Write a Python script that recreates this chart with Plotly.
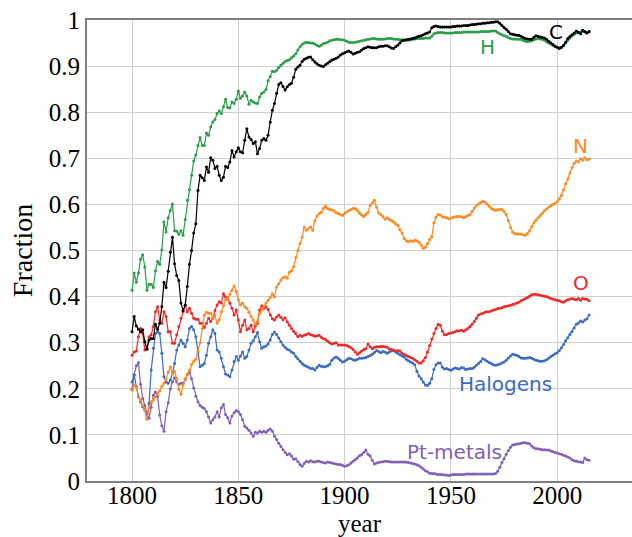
import plotly.graph_objects as go

START_YEAR = 1800

C = [
0.324,0.357,0.336,0.329,0.324,0.328,0.302,0.286,0.306,0.309,
0.309,0.340,0.329,0.342,0.378,0.431,0.420,0.455,0.496,0.529,
0.471,0.446,0.435,0.386,0.370,0.381,0.422,0.470,0.500,0.538,
0.558,0.630,0.663,0.658,0.652,0.681,0.670,0.701,0.696,0.678,
0.683,0.663,0.652,0.659,0.683,0.680,0.692,0.717,0.703,0.714,
0.723,0.714,0.712,0.739,0.764,0.746,0.741,0.732,0.736,0.710,
0.721,0.739,0.743,0.739,0.750,0.779,0.804,0.819,0.841,0.860,
0.864,0.856,0.848,0.855,0.860,0.863,0.876,0.893,0.898,0.902,
0.910,0.915,0.917,0.919,0.920,0.914,0.909,0.905,0.902,0.900,
0.899,0.903,0.906,0.910,0.913,0.915,0.917,0.920,0.924,0.927,
0.929,0.931,0.933,0.930,0.926,0.928,0.930,0.931,0.935,0.938,
0.940,0.942,0.941,0.940,0.940,0.940,0.942,0.943,0.943,0.944,
0.944,0.942,0.939,0.938,0.942,0.945,0.950,0.955,0.956,0.957,
0.958,0.959,0.960,0.961,0.963,0.965,0.966,0.968,0.970,0.972,
0.974,0.983,0.986,0.987,0.986,0.985,0.985,0.985,0.985,0.985,
0.985,0.986,0.986,0.987,0.987,0.987,0.988,0.988,0.988,0.989,
0.990,0.990,0.991,0.992,0.992,0.993,0.993,0.994,0.994,0.995,
0.995,0.996,0.996,0.993,0.988,0.984,0.980,0.975,0.970,0.969,
0.968,0.967,0.967,0.965,0.962,0.960,0.959,0.958,0.958,0.962,
0.966,0.965,0.963,0.962,0.961,0.958,0.954,0.950,0.947,0.943,
0.941,0.938,0.941,0.945,0.952,0.960,0.964,0.968,0.972,0.976,
0.973,0.970,0.978,0.975,0.972,0.975]

H = [
0.414,0.451,0.431,0.451,0.481,0.491,0.464,0.414,0.427,0.426,
0.420,0.456,0.476,0.470,0.501,0.562,0.540,0.571,0.587,0.601,
0.543,0.542,0.535,0.543,0.533,0.567,0.609,0.632,0.663,0.694,
0.707,0.728,0.745,0.728,0.728,0.755,0.750,0.768,0.779,0.784,
0.797,0.803,0.797,0.812,0.828,0.810,0.809,0.822,0.819,0.828,
0.846,0.830,0.835,0.844,0.835,0.817,0.826,0.822,0.820,0.819,
0.833,0.841,0.844,0.849,0.868,0.877,0.889,0.888,0.891,0.897,
0.902,0.906,0.910,0.912,0.914,0.918,0.922,0.927,0.935,0.942,
0.947,0.950,0.952,0.951,0.950,0.950,0.948,0.945,0.943,0.945,
0.949,0.950,0.952,0.955,0.956,0.957,0.958,0.958,0.957,0.957,
0.956,0.954,0.952,0.951,0.951,0.952,0.953,0.954,0.955,0.956,
0.957,0.958,0.959,0.960,0.960,0.959,0.958,0.958,0.958,0.959,
0.960,0.960,0.960,0.959,0.958,0.958,0.957,0.957,0.957,0.956,
0.956,0.957,0.958,0.959,0.960,0.960,0.960,0.960,0.961,0.961,
0.961,0.965,0.970,0.972,0.973,0.973,0.973,0.972,0.972,0.972,
0.972,0.972,0.973,0.973,0.973,0.973,0.974,0.974,0.974,0.974,
0.974,0.974,0.974,0.974,0.975,0.975,0.975,0.975,0.975,0.976,
0.976,0.976,0.973,0.970,0.968,0.966,0.965,0.962,0.960,0.959,
0.959,0.958,0.958,0.958,0.956,0.954,0.953,0.954,0.955,0.957,
0.959,0.960,0.959,0.958,0.956,0.953,0.950,0.948,0.945,0.943,
0.941,0.940,0.941,0.944,0.950,0.956,0.961,0.966,0.969,0.972,
0.973,0.974,0.975,0.974,0.973,0.974]

N = [
0.197,0.208,0.204,0.183,0.175,0.164,0.154,0.134,0.159,0.172,
0.176,0.182,0.190,0.196,0.205,0.212,0.220,0.236,0.248,0.232,
0.238,0.222,0.199,0.188,0.209,0.222,0.232,0.240,0.253,0.260,
0.264,0.282,0.300,0.330,0.360,0.366,0.364,0.364,0.352,0.360,
0.342,0.350,0.367,0.380,0.393,0.396,0.405,0.414,0.423,0.411,
0.393,0.382,0.386,0.378,0.375,0.366,0.357,0.349,0.340,0.346,
0.364,0.371,0.378,0.386,0.392,0.398,0.406,0.399,0.421,0.428,
0.436,0.441,0.443,0.440,0.453,0.456,0.465,0.485,0.500,0.515,
0.529,0.551,0.544,0.547,0.551,0.544,0.565,0.575,0.580,0.583,
0.591,0.596,0.591,0.589,0.588,0.586,0.582,0.580,0.578,0.576,
0.580,0.584,0.586,0.589,0.591,0.591,0.587,0.581,0.577,0.574,
0.578,0.583,0.598,0.603,0.609,0.594,0.582,0.578,0.574,0.568,
0.571,0.567,0.565,0.562,0.558,0.555,0.545,0.538,0.526,0.521,
0.519,0.521,0.520,0.522,0.521,0.518,0.512,0.505,0.507,0.515,
0.524,0.530,0.560,0.572,0.578,0.577,0.573,0.572,0.571,0.569,
0.570,0.572,0.573,0.574,0.574,0.573,0.571,0.574,0.576,0.578,
0.585,0.592,0.597,0.601,0.604,0.607,0.605,0.601,0.596,0.591,
0.589,0.587,0.589,0.589,0.589,0.584,0.578,0.565,0.550,0.540,
0.537,0.536,0.536,0.536,0.534,0.533,0.537,0.543,0.552,0.560,
0.566,0.571,0.576,0.581,0.586,0.590,0.594,0.597,0.600,0.602,
0.606,0.612,0.620,0.632,0.645,0.655,0.668,0.680,0.689,0.694,
0.692,0.699,0.696,0.701,0.697,0.698]

O = [
0.273,0.280,0.282,0.313,0.331,0.320,0.284,0.288,0.313,0.317,
0.335,0.367,0.378,0.349,0.342,0.367,0.357,0.324,0.324,0.299,
0.299,0.317,0.335,0.353,0.367,0.382,0.367,0.375,0.364,0.353,
0.351,0.351,0.342,0.342,0.333,0.342,0.353,0.346,0.353,0.370,
0.382,0.389,0.386,0.406,0.399,0.396,0.386,0.375,0.360,0.371,
0.349,0.324,0.338,0.349,0.328,0.331,0.338,0.324,0.336,0.342,
0.371,0.380,0.375,0.378,0.372,0.360,0.352,0.349,0.356,0.360,
0.355,0.350,0.354,0.345,0.338,0.331,0.325,0.320,0.313,0.316,
0.314,0.316,0.318,0.320,0.317,0.316,0.314,0.315,0.316,0.312,
0.309,0.307,0.303,0.300,0.297,0.299,0.300,0.295,0.295,0.295,
0.295,0.294,0.292,0.289,0.285,0.280,0.275,0.278,0.282,0.285,
0.287,0.297,0.291,0.287,0.290,0.291,0.291,0.292,0.292,0.291,
0.290,0.287,0.285,0.283,0.282,0.283,0.282,0.277,0.275,0.272,
0.270,0.268,0.266,0.263,0.260,0.256,0.256,0.261,0.268,0.280,
0.294,0.308,0.320,0.331,0.340,0.338,0.325,0.317,0.318,0.320,
0.321,0.322,0.324,0.326,0.326,0.327,0.325,0.328,0.331,0.335,
0.340,0.346,0.353,0.360,0.362,0.364,0.366,0.367,0.367,0.369,
0.371,0.372,0.374,0.375,0.376,0.378,0.379,0.380,0.381,0.383,
0.384,0.386,0.388,0.391,0.393,0.396,0.398,0.401,0.404,0.405,
0.405,0.404,0.403,0.402,0.401,0.400,0.398,0.396,0.395,0.393,
0.392,0.391,0.389,0.388,0.391,0.393,0.395,0.396,0.394,0.393,
0.396,0.392,0.396,0.395,0.394,0.391]

HALOGENS = [
0.215,0.230,0.205,0.183,0.172,0.161,0.154,0.136,0.168,0.241,
0.288,0.320,0.324,0.320,0.277,0.226,0.215,0.212,0.219,0.233,
0.255,0.284,0.295,0.306,0.299,0.291,0.306,0.331,0.335,0.328,
0.313,0.280,0.248,0.251,0.255,0.273,0.299,0.313,0.328,0.320,
0.284,0.280,0.266,0.248,0.232,0.230,0.226,0.241,0.259,0.270,
0.262,0.271,0.280,0.266,0.270,0.284,0.299,0.304,0.313,0.322,
0.302,0.288,0.291,0.293,0.297,0.306,0.318,0.323,0.318,0.310,
0.302,0.295,0.290,0.286,0.284,0.280,0.277,0.270,0.265,0.260,
0.255,0.251,0.249,0.247,0.244,0.244,0.241,0.246,0.251,0.249,
0.248,0.248,0.250,0.253,0.262,0.267,0.269,0.266,0.262,0.258,
0.260,0.263,0.266,0.265,0.263,0.262,0.264,0.266,0.266,0.267,
0.268,0.270,0.272,0.275,0.279,0.283,0.281,0.278,0.281,0.280,
0.277,0.280,0.282,0.284,0.280,0.277,0.274,0.271,0.269,0.264,
0.261,0.258,0.256,0.252,0.238,0.228,0.222,0.215,0.208,0.207,
0.212,0.222,0.242,0.252,0.256,0.256,0.247,0.243,0.244,0.242,
0.240,0.243,0.245,0.244,0.243,0.246,0.245,0.242,0.243,0.244,
0.244,0.247,0.251,0.255,0.259,0.265,0.263,0.260,0.257,0.255,
0.252,0.251,0.252,0.254,0.256,0.258,0.262,0.267,0.271,0.275,
0.274,0.273,0.270,0.267,0.266,0.266,0.267,0.268,0.266,0.264,
0.262,0.261,0.260,0.260,0.261,0.263,0.266,0.270,0.273,0.276,
0.278,0.283,0.289,0.296,0.304,0.311,0.318,0.324,0.332,0.340,
0.343,0.347,0.345,0.349,0.352,0.360]

PT_METALS = [
0.199,0.231,0.250,0.257,0.210,0.179,0.164,0.145,0.136,0.160,
0.186,0.193,0.184,0.143,0.120,0.108,0.150,0.170,0.200,0.215,
0.224,0.215,0.210,0.212,0.212,0.220,0.231,0.236,0.222,0.202,
0.184,0.172,0.164,0.160,0.157,0.150,0.139,0.126,0.133,0.139,
0.150,0.139,0.159,0.166,0.144,0.137,0.126,0.141,0.148,0.153,
0.150,0.144,0.133,0.119,0.115,0.110,0.104,0.097,0.106,0.104,
0.108,0.106,0.108,0.106,0.110,0.113,0.108,0.097,0.090,0.082,
0.075,0.068,0.062,0.057,0.059,0.054,0.047,0.048,0.042,0.036,
0.032,0.038,0.043,0.041,0.044,0.042,0.041,0.043,0.043,0.041,
0.040,0.039,0.041,0.040,0.039,0.038,0.037,0.036,0.036,0.034,
0.032,0.033,0.035,0.039,0.043,0.046,0.050,0.055,0.057,0.062,
0.067,0.058,0.054,0.045,0.037,0.039,0.040,0.041,0.042,0.043,
0.043,0.042,0.041,0.041,0.041,0.041,0.041,0.041,0.041,0.041,
0.040,0.039,0.038,0.037,0.035,0.033,0.030,0.026,0.022,0.020,
0.017,0.016,0.016,0.015,0.014,0.014,0.014,0.013,0.013,0.012,
0.013,0.014,0.014,0.014,0.014,0.014,0.014,0.015,0.015,0.015,
0.015,0.015,0.015,0.015,0.015,0.015,0.015,0.015,0.015,0.015,
0.015,0.016,0.021,0.030,0.040,0.048,0.058,0.066,0.073,0.078,
0.079,0.080,0.081,0.082,0.083,0.083,0.082,0.081,0.076,0.072,
0.070,0.070,0.069,0.068,0.068,0.067,0.067,0.065,0.064,0.062,
0.061,0.059,0.058,0.056,0.054,0.052,0.050,0.046,0.044,0.043,
0.042,0.041,0.040,0.050,0.046,0.045]

SERIES_NAMES = ["Pt-metals", "Halogens", "O", "N", "H", "C"]
SERIES_VALUES = [PT_METALS, HALOGENS, O, N, H, C]
SERIES_COLORS = ["#8062b5", "#3a6cbf", "#ec2a2a", "#ff8a22", "#2a9e48", "#000000"]

LABEL_TEXTS = ["C", "H", "N", "O", "Halogens", "Pt-metals"]
LABEL_X = [1999.4, 1967.4, 2011.1, 2011.1, 1975.5, 1951.5]
LABEL_Y = [0.974, 0.941, 0.727, 0.430, 0.210, 0.063]
LABEL_COLORS = ["#000000", "#2a9e48", "#ff8a22", "#ec2a2a", "#3a6cbf", "#8062b5"]

X_TICKS = [1800, 1850, 1900, 1950, 2000]
Y_TICKS = [0, 0.1, 0.2, 0.3, 0.4, 0.5, 0.6, 0.7, 0.8, 0.9, 1]
Y_TICK_LABELS = ["0", "0.1", "0.2", "0.3", "0.4", "0.5", "0.6", "0.7", "0.8", "0.9", "1"]

fig = go.Figure()
for name, vals, col in zip(SERIES_NAMES, SERIES_VALUES, SERIES_COLORS):
    years = list(range(START_YEAR, START_YEAR + len(vals)))
    fig.add_trace(go.Scatter(
        x=years, y=vals, mode="lines+markers", name=name,
        line=dict(color=col, width=1.2),
        marker=dict(color=col, size=3),
        showlegend=False, hoverinfo="skip"))

for t, x, y, c in zip(LABEL_TEXTS, LABEL_X, LABEL_Y, LABEL_COLORS):
    fig.add_annotation(x=x, y=y, text=t, showarrow=False,
                       font=dict(family="DejaVu Sans", size=20, color=c),
                       xanchor="center", yanchor="middle")

serif = "Liberation Serif"
fig.update_layout(
    width=632, height=537,
    margin=dict(l=87, r=0, t=20, b=56),
    paper_bgcolor="white", plot_bgcolor="white",
    font=dict(family=serif, size=24, color="black"),
    hovermode=False,
)
fig.update_xaxes(
    range=[1778.8, 2035.2], tickvals=X_TICKS, ticktext=[str(v) for v in X_TICKS],
    showgrid=True, gridcolor="#d0d0d0", gridwidth=1,
    showline=True, linecolor="#808080", linewidth=2, mirror=True,
    ticks="", zeroline=False, ticklabelstandoff=-9,
    tickfont=dict(family=serif, size=25),
    title=dict(text="year", font=dict(family=serif, size=25), standoff=6),
)
fig.update_yaxes(
    range=[0, 1], tickvals=Y_TICKS, ticktext=Y_TICK_LABELS,
    showgrid=True, gridcolor="#d0d0d0", gridwidth=1,
    showline=True, linecolor="#808080", linewidth=2, mirror=False,
    ticks="", zeroline=False,
    tickfont=dict(family=serif, size=25),
    title=dict(text="Fraction", font=dict(family=serif, size=28), standoff=8),
)

fig.write_html("out.html", config={"displayModeBar": False, "staticPlot": True},
               post_script="document.body.style.margin='0';")
